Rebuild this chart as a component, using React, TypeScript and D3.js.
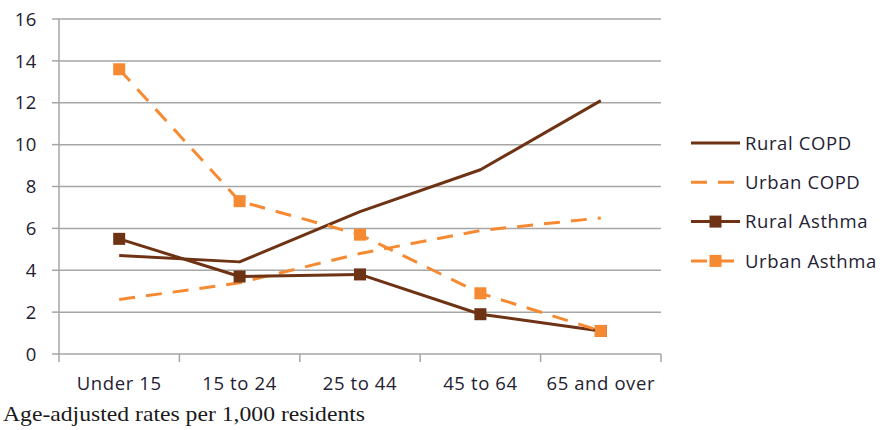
import React from "react";
import * as d3 from "d3";

const categories = ["Under 15", "15 to 24", "25 to 44", "45 to 64", "65 and over"];
const ruralCOPD = [4.7, 4.4, 6.8, 8.8, 12.1];
const urbanCOPD = [2.6, 3.4, 4.8, 5.9, 6.5];
const ruralAsthma = [5.5, 3.7, 3.8, 1.9, 1.1];
const urbanAsthma = [13.6, 7.3, 5.7, 2.9, 1.1];
const yTicks = [0, 2, 4, 6, 8, 10, 12, 14, 16];

const BROWN = "#6E3214";
const ORANGE = "#F68A33";

const seriesList = [
  { name: "Rural COPD", values: ruralCOPD, color: BROWN, dash: false, marker: false },
  { name: "Urban COPD", values: urbanCOPD, color: ORANGE, dash: true, marker: false },
  { name: "Rural Asthma", values: ruralAsthma, color: BROWN, dash: false, marker: true },
  { name: "Urban Asthma", values: urbanAsthma, color: ORANGE, dash: true, marker: true },
];

export default function App() {
  const W = 882, H = 430;
  const left = 59, right = 661, top = 19, bottom = 354;
  const x = d3.scaleBand().domain(categories).range([left, right]);
  const y = d3.scaleLinear().domain([0, 16]).range([bottom, top]);
  const cx = (i: number) => (x(categories[i]) as number) + x.bandwidth() / 2;
  const line = d3.line<number>().x((_, i) => cx(i)).y((d) => y(d));
  const tickFont = "'Open Sans', sans-serif";
  const textColor = "#1f2233";
  const grid = "#a6a6a6";
  const dashPattern = "16 11";
  const boundaries = d3.range(categories.length + 1).map((i) => left + i * x.step());
  return (
    <svg width={W} height={H} style={{ position: "absolute", left: 0, top: 0, background: "#fff" }}>
      <rect width={W} height={H} fill="#fff" />
      {yTicks.map((t) => (
        <g key={t}>
          <line x1={left} x2={right} y1={y(t)} y2={y(t)} stroke={grid} strokeWidth={1.5} />
          <line x1={left - 7} x2={left} y1={y(t)} y2={y(t)} stroke={grid} strokeWidth={1.5} />
          <text x={37} y={y(t)} dy="0.36em" textAnchor="end" fontFamily={tickFont} fontSize={18.5} letterSpacing={0.6} fill={textColor}>
            {t}
          </text>
        </g>
      ))}
      <line x1={left} x2={left} y1={top} y2={bottom} stroke={grid} strokeWidth={1.5} />
      {boundaries.map((b, i) => (
        <line key={i} x1={b} x2={b} y1={bottom} y2={bottom + 8} stroke={grid} strokeWidth={1.5} />
      ))}
      {categories.map((c, i) => (
        <text key={c} x={cx(i)} y={390} textAnchor="middle" fontFamily={tickFont} fontSize={18.5} letterSpacing={0.6} fill={textColor}>
          {c}
        </text>
      ))}
      {seriesList.map((s) => (
        <g key={s.name}>
          <path
            d={line(s.values) as string}
            fill="none"
            stroke={s.color}
            strokeWidth={3}
            strokeDasharray={s.dash ? dashPattern : undefined}
            strokeLinejoin="round"
          />
          {s.marker &&
            s.values.map((v, i) => (
              <rect key={i} x={cx(i) - 6} y={y(v) - 6} width={12} height={12} fill={s.color} />
            ))}
        </g>
      ))}
      {seriesList.map((s, k) => {
        const ly = 143 + k * 39.3;
        return (
          <g key={s.name}>
            <line
              x1={691}
              x2={740}
              y1={ly}
              y2={ly}
              stroke={s.color}
              strokeWidth={3}
              strokeDasharray={s.dash ? dashPattern : undefined}
            />
            {s.marker && <rect x={715.5 - 6} y={ly - 6} width={12} height={12} fill={s.color} />}
            <text x={745} y={ly} dy="0.36em" fontFamily={tickFont} fontSize={18.5} letterSpacing={0.6} fill={textColor}>
              {s.name}
            </text>
          </g>
        );
      })}
      <text x={3} y={421} fontFamily="'Liberation Serif', serif" fontSize={22} textLength={362} lengthAdjust="spacingAndGlyphs" fill="#1a1a1a">
        Age-adjusted rates per 1,000 residents
      </text>
    </svg>
  );
}
